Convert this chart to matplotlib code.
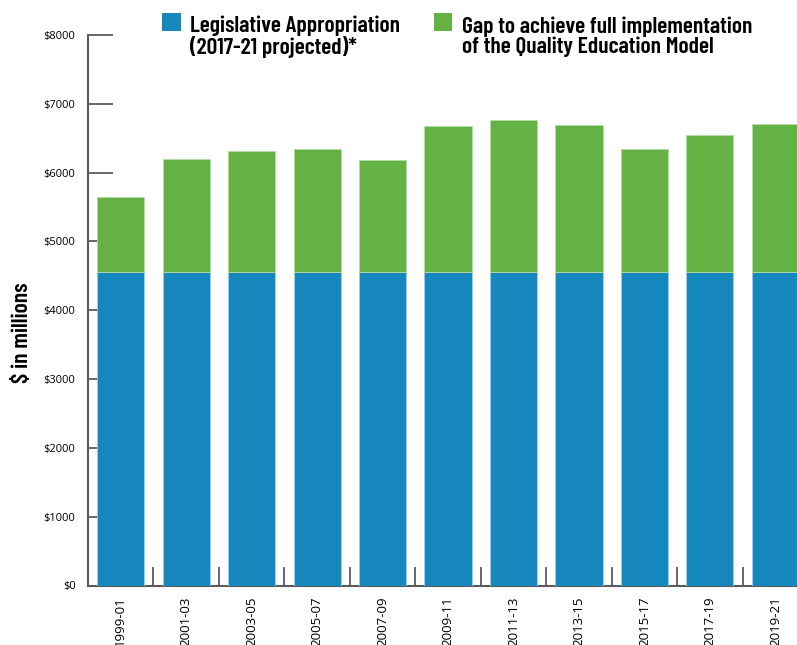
import matplotlib
matplotlib.use('Agg')
import matplotlib.pyplot as plt
from matplotlib.patches import Patch, Rectangle
from matplotlib.legend_handler import HandlerPatch
from matplotlib.ticker import FixedLocator, FuncFormatter

#%% Data
periods = ['1999-01', '2001-03', '2003-05', '2005-07', '2007-09', '2009-11',
           '2011-13', '2013-15', '2015-17', '2017-19', '2019-21']
appropriation = [4560, 4560, 4560, 4560, 4560, 4560, 4560, 4560, 4560, 4560, 4560]
gap = [1090, 1640, 1750, 1790, 1630, 2115, 2205, 2125, 1785, 1990, 2140]
y_ticks = [0, 1000, 2000, 3000, 4000, 5000, 6000, 7000, 8000]

#%% Plot features
blue = '#1788be'
green = '#64b244'
axis_grey = '#5a5a5a'
plt.rcParams['font.family'] = ['Open Sans', 'DejaVu Sans']
cond = ['Barlow Condensed', 'DejaVu Sans']


def top_square(legend, orig_handle, xdescent, ydescent, width, height, fontsize):
    # legend squares sit next to the first line of the two-line labels
    return Rectangle((-xdescent, -ydescent + 0.6 * fontsize), width, height)


fig = plt.figure(figsize=(7.97, 6.45), dpi=100)
ax = fig.add_axes([88 / 797, 1 - 585.5 / 645, 1 - 88 / 797, (585.5 - 35) / 645])

x = list(range(len(periods)))
ax.bar(x, appropriation, width=0.72, color=blue, edgecolor='#9fd0e8', linewidth=0.6, zorder=3)
ax.bar(x, gap, bottom=appropriation, width=0.72, color=green, edgecolor='#b5dca5',
       linewidth=0.6, zorder=3)

ax.set_xlim(-0.5, 10.33)
ax.set_ylim(0, 8000)
ax.set_axisbelow(True)

for side in ['top', 'right']:
    ax.spines[side].set_visible(False)
for side in ['left', 'bottom']:
    ax.spines[side].set_color(axis_grey)
    ax.spines[side].set_linewidth(1.5)

ax.set_yticks(y_ticks)
ax.yaxis.set_major_formatter(FuncFormatter(lambda v, p: '$%d' % v))
ax.tick_params(axis='y', direction='in', length=18, width=1.3, color=axis_grey,
               labelsize=8, pad=9)

ax.set_xticks(x)
ax.set_xticklabels(periods, rotation=90, fontsize=9.5)
ax.tick_params(axis='x', which='major', length=0, pad=8)
ax.xaxis.set_minor_locator(FixedLocator([i + 0.5 for i in x[:-1]]))
ax.tick_params(axis='x', which='minor', direction='in', length=14, width=1.3, color=axis_grey)

ax.set_ylabel('$ in millions', fontsize=17, fontweight='semibold', family=cond)
ax.yaxis.set_label_coords(-0.079, 0.459)

handles = [Patch(facecolor=blue, label='Legislative Appropriation\n(2017-21 projected)*'),
           Patch(facecolor=green, label='Gap to achieve full implementation\nof the Quality Education Model')]
leg = fig.legend(handles=handles, loc='upper left', bbox_to_anchor=(141 / 797, 1.009), ncol=2,
                 frameon=False, prop={'weight': 'semibold', 'size': 17, 'family': cond},
                 handlelength=0.78, handleheight=0.78, handletextpad=0.4, columnspacing=1.42,
                 handler_map={Patch: HandlerPatch(patch_func=top_square)})
for t in leg.get_texts():
    t.set_linespacing(1.0)

plt.savefig('out.png', dpi=100)
plt.close(fig)
